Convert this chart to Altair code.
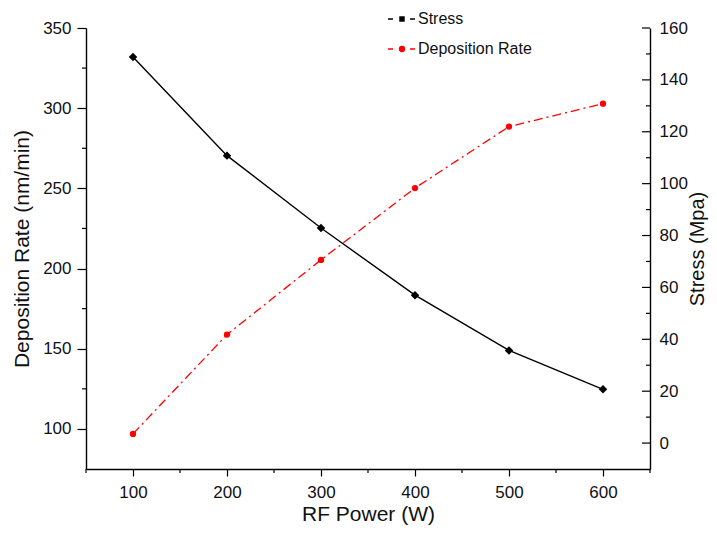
import altair as alt
import pandas as pd

# ---- data ----
POWER = [100, 200, 300, 400, 500, 600]
STRESS = [148.8, 110.8, 82.9, 57.0, 35.7, 20.7]          # MPa (right axis)
RATE = [96.9, 158.8, 205.4, 250.2, 288.5, 302.8]         # nm/min (left axis)
SERIES = ["Stress", "Deposition Rate"]

X_TICKS = [100, 200, 300, 400, 500, 600]
X_MINOR = [50, 150, 250, 350, 450, 550, 650]
LEFT_TICKS = [100, 150, 200, 250, 300, 350]
LEFT_MINOR = [125, 175, 225, 275, 325]
RIGHT_TICKS = [0, 20, 40, 60, 80, 100, 120, 140, 160]
RIGHT_MINOR = [10, 30, 50, 70, 90, 110, 130, 150]

W, H = 564, 441
RED = "#ff0000"
FONT = "Liberation Sans"

df = pd.DataFrame({"power": POWER, "stress": STRESS, "rate": RATE})

x_scale = alt.Scale(domain=[50, 650], nice=False, zero=False)
yl_scale = alt.Scale(domain=[75, 350], nice=False, zero=False)
yr_scale = alt.Scale(domain=[-10, 160], nice=False, zero=False)

x_axis = alt.Axis(values=X_TICKS, title="RF Power (W)", tickSize=7, labelPadding=8,
                  titlePadding=3, format="d")
yl_axis = alt.Axis(values=LEFT_TICKS, title="Deposition Rate (nm/min)", tickSize=9,
                   labelPadding=6, titlePadding=10, format="d")
yr_axis = alt.Axis(values=RIGHT_TICKS, title="Stress (Mpa)", orient="right", ticks=False,
                   tickSize=0, labelPadding=9, titlePadding=0, titleAngle=270,
                   titleBaseline="top", titleFontSize=20, format="d")

base = alt.Chart(df)

red_line = base.mark_line(color=RED, strokeWidth=1.3, strokeDash=[9, 4, 2, 4]).encode(
    x=alt.X("power:Q", scale=x_scale, axis=x_axis),
    y=alt.Y("rate:Q", scale=yl_scale, axis=yl_axis),
)
red_pts = base.mark_point(shape="circle", filled=True, size=40, color=RED, opacity=1).encode(
    x=alt.X("power:Q", scale=x_scale, axis=x_axis),
    y=alt.Y("rate:Q", scale=yl_scale, axis=yl_axis),
)
left_minor = alt.Chart(pd.DataFrame({"v": LEFT_MINOR})).mark_rule(color="black", strokeWidth=1.2).encode(
    y=alt.Y("v:Q", scale=yl_scale, axis=yl_axis), x=alt.value(-4), x2=alt.value(0)
)
bottom_minor = alt.Chart(pd.DataFrame({"m": X_MINOR})).mark_rule(color="black", strokeWidth=1.2).encode(
    x=alt.X("m:Q", scale=x_scale, axis=x_axis), y=alt.value(H), y2=alt.value(H + 4)
)
left = alt.layer(red_line, red_pts, left_minor, bottom_minor)

black_line = base.mark_line(color="black", strokeWidth=1.4).encode(
    x=alt.X("power:Q", scale=x_scale, axis=x_axis),
    y=alt.Y("stress:Q", scale=yr_scale, axis=yr_axis),
)
black_pts = base.mark_point(shape="diamond", filled=True, size=72, color="black", opacity=1).encode(
    x=alt.X("power:Q", scale=x_scale, axis=x_axis),
    y=alt.Y("stress:Q", scale=yr_scale, axis=yr_axis),
)
right_major = alt.Chart(pd.DataFrame({"v": RIGHT_TICKS})).mark_rule(color="black", strokeWidth=1.2).encode(
    y=alt.Y("v:Q", scale=yr_scale, axis=yr_axis), x=alt.value(W - 8), x2=alt.value(W)
)
right_minor = alt.Chart(pd.DataFrame({"v": RIGHT_MINOR})).mark_rule(color="black", strokeWidth=1.2).encode(
    y=alt.Y("v:Q", scale=yr_scale, axis=yr_axis), x=alt.value(W - 4), x2=alt.value(W)
)
right = alt.layer(black_line, black_pts, right_major, right_minor)

# ---- manual legend (top centre) ----
def legend_entry(label, color, shape, yy, size):
    d = pd.DataFrame({"label": [label]})
    dash = alt.Chart(d).mark_rule(color=color, strokeWidth=1.3, strokeDash=[5, 17]).encode(
        x=alt.value(302), x2=alt.value(329), y=alt.value(yy)
    )
    pt = alt.Chart(d).mark_point(shape=shape, filled=True, size=size, color=color, opacity=1).encode(
        x=alt.value(316), y=alt.value(yy)
    )
    txt = alt.Chart(d).mark_text(align="left", baseline="middle", fontSize=16, font=FONT,
                                 color="#111111").encode(
        x=alt.value(332), y=alt.value(yy), text="label:N"
    )
    return [dash, pt, txt]

legend_layers = legend_entry(SERIES[0], "black", "square", -9, 30) + \
    legend_entry(SERIES[1], RED, "circle", 21, 40)

chart = alt.layer(left, right, *legend_layers).resolve_scale(y="independent").properties(
    width=W,
    height=H,
    padding={"left": 78, "top": 20, "right": 59, "bottom": 56},
    autosize=alt.AutoSizeParams(type="none"),
).configure_view(stroke=None).configure_axis(
    grid=False,
    domainColor="black",
    domainWidth=1.4,
    tickColor="black",
    tickWidth=1.2,
    labelFont=FONT,
    labelFontSize=17,
    labelColor="#111111",
    titleFont=FONT,
    titleFontSize=21,
    titleFontWeight="normal",
    titleColor="#111111",
)

chart.save("out.html", embed_options={"renderer": "svg", "actions": False})
